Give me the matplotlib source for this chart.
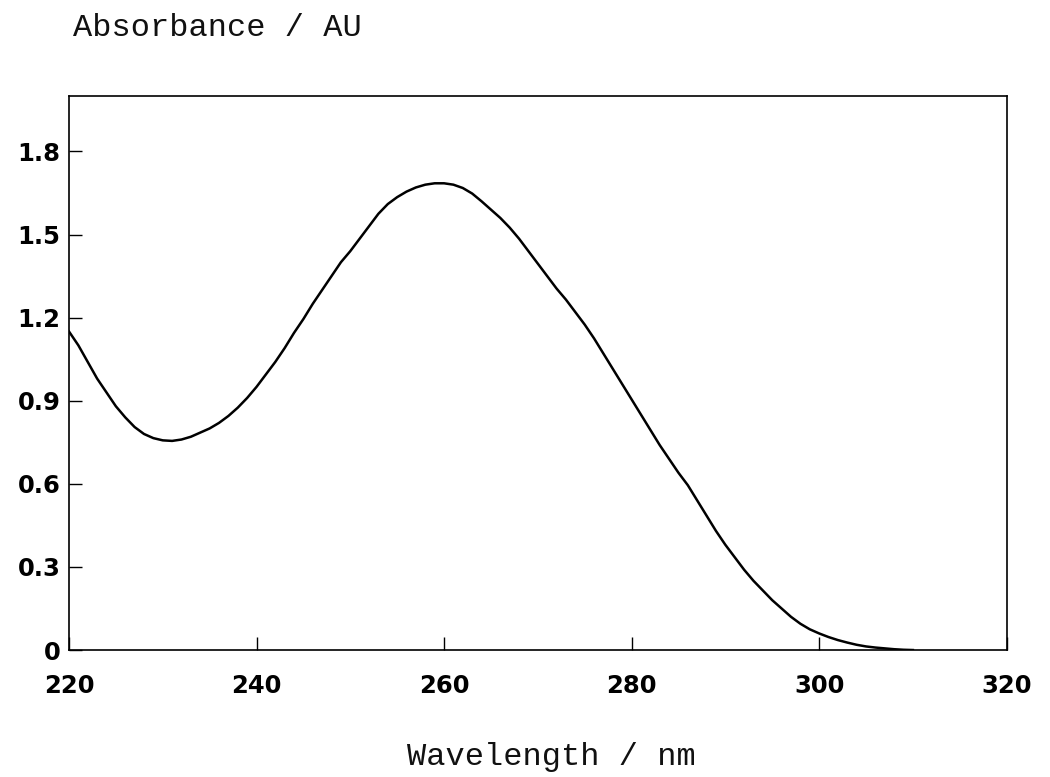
import matplotlib
matplotlib.use("Agg")
import matplotlib.pyplot as plt

# UV absorbance spectrum (1 nm steps)
wavelength = list(range(220, 311))
absorbance = [1.15, 1.10, 1.04, 0.98, 0.93, 0.88, 0.84, 0.805, 0.78, 0.765,
              0.757, 0.755, 0.76, 0.77, 0.785, 0.80, 0.82, 0.845, 0.875, 0.91,
              0.95, 0.995, 1.04, 1.09, 1.145, 1.195, 1.25, 1.30, 1.35, 1.40,
              1.44, 1.485, 1.53, 1.575, 1.61, 1.635, 1.655, 1.67, 1.68, 1.685,
              1.685, 1.68, 1.668, 1.648, 1.62, 1.59, 1.56, 1.525, 1.485, 1.44,
              1.395, 1.35, 1.305, 1.265, 1.22, 1.175, 1.125, 1.07, 1.015, 0.96,
              0.905, 0.85, 0.795, 0.74, 0.69, 0.64, 0.595, 0.54, 0.485, 0.43,
              0.38, 0.335, 0.29, 0.25, 0.215, 0.18, 0.15, 0.12, 0.095, 0.075,
              0.06, 0.047, 0.036, 0.027, 0.019, 0.013, 0.009, 0.006, 0.003, 0.001,
              0.0]

xticks = [220, 240, 260, 280, 300, 320]
yticks = [0, 0.3, 0.6, 0.9, 1.2, 1.5, 1.8]
ytick_labels = ["0", "0.3", "0.6", "0.9", "1.2", "1.5", "1.8"]

fig = plt.figure(figsize=(10.5, 7.77), dpi=100)
ax = fig.add_axes([0.0657, 0.1634, 0.893, 0.713])

ax.plot(wavelength, absorbance, color="black", lw=1.8, solid_joinstyle="round")

ax.set_xlim(220, 320)
ax.set_ylim(0, 2.0)
ax.set_xticks(xticks)
ax.set_xticklabels([str(t) for t in xticks])
ax.set_yticks(yticks)
ax.set_yticklabels(ytick_labels)

for lab in ax.get_xticklabels() + ax.get_yticklabels():
    lab.set_fontfamily("DejaVu Sans")
    lab.set_fontweight("bold")
    lab.set_fontsize(17.5)

ax.tick_params(axis="both", direction="in", length=9.5, width=1.0, color="black")
ax.tick_params(axis="x", pad=17)
ax.tick_params(axis="y", pad=6)
for sp in ax.spines.values():
    sp.set_linewidth(1.2)
    sp.set_color("black")

mono = "Liberation Mono"
fig.text(73 / 1050, 1 - 28 / 777, "Absorbance / AU", family=mono, fontsize=23,
         ha="left", va="center", color="#111111")
fig.text(551 / 1050, 1 - 757 / 777, "Wavelength / nm", family=mono, fontsize=23,
         ha="center", va="center", color="#111111")

fig.savefig("out.png", dpi=100)
